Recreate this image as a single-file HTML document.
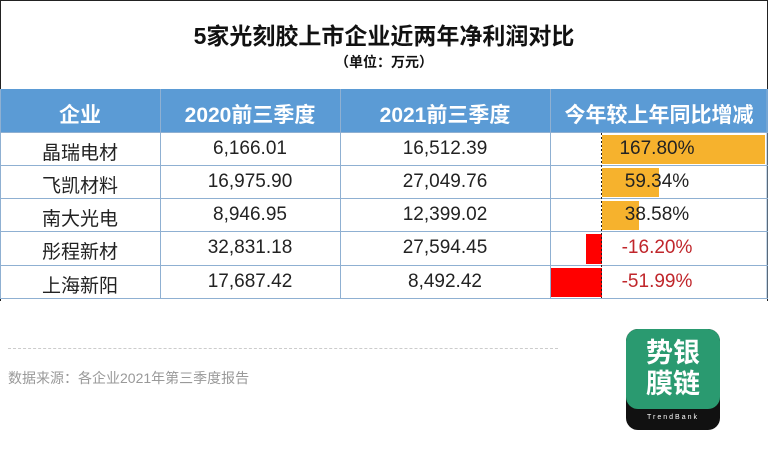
<!DOCTYPE html><html><head><meta charset="utf-8"><style>
body{margin:0;width:768px;height:462px;background:#fff;position:relative;overflow:hidden;font-family:"Liberation Sans","Noto Sans CJK SC",sans-serif}
.a{position:absolute}
.c{position:absolute;text-align:center;font-size:19px;color:#222}
</style></head><body>
<div class="a" style="left:0;top:0;width:766px;height:300px;border:1px solid #222;border-bottom:none"></div>
<div class="a" style="left:0;top:17px;width:768px;text-align:center;font-size:23px;font-weight:bold;color:#111">5家光刻胶上市企业近两年净利润对比</div>
<div class="a" style="left:0;top:52px;width:768px;text-align:center;font-size:14px;font-weight:bold;color:#111">（单位：万元）</div>
<div class="a" style="left:0;top:89px;width:768px;height:43px;background:#5b9bd5"></div>
<svg class="a" style="left:0;top:89px" width="768" height="212">
<g stroke="#8fb0d2" stroke-width="1">
<line x1="160.5" y1="0" x2="160.5" y2="210"/><line x1="340.5" y1="0" x2="340.5" y2="210"/><line x1="550.5" y1="0" x2="550.5" y2="210"/><line x1="0.5" y1="0" x2="0.5" y2="210"/><line x1="767" y1="0" x2="767" y2="210"/>
<line x1="0" y1="43.5" x2="768" y2="43.5"/><line x1="0" y1="76.5" x2="768" y2="76.5"/><line x1="0" y1="109.5" x2="768" y2="109.5"/><line x1="0" y1="142.5" x2="768" y2="142.5"/><line x1="0" y1="176.5" x2="768" y2="176.5"/><line x1="0" y1="209.5" x2="768" y2="209.5"/>
</g>
<rect x="602" y="46" width="163" height="29" fill="#f6b22d"/>
<rect x="602" y="79" width="57" height="29" fill="#f6b22d"/>
<rect x="602" y="112" width="37" height="29" fill="#f6b22d"/>
<rect x="586" y="145" width="16" height="30" fill="#f00"/>
<rect x="551" y="179" width="51" height="29" fill="#f00"/>
<line x1="601.5" y1="44" x2="601.5" y2="209" stroke="#222" stroke-dasharray="2,2"/>
</svg>
<div class="c" style="left:0;width:160px;top:99px;color:#fff;font-weight:bold;font-size:21px">企业</div>
<div class="c" style="left:160px;width:180px;top:99px;color:#fff;font-weight:bold;font-size:21px">2020前三季度</div>
<div class="c" style="left:340px;width:210px;top:99px;color:#fff;font-weight:bold;font-size:21px">2021前三季度</div>
<div class="c" style="left:550px;width:218px;top:99px;color:#fff;font-weight:bold;font-size:21px">今年较上年同比增减</div>
<div class="c" style="left:0;width:160px;top:138px">晶瑞电材</div><div class="c" style="left:160px;width:180px;top:138px">6,166.01</div><div class="c" style="left:340px;width:210px;top:138px">16,512.39</div><div class="c" style="left:602px;width:110px;top:138px">167.80%</div>
<div class="c" style="left:0;width:160px;top:171px">飞凯材料</div><div class="c" style="left:160px;width:180px;top:171px">16,975.90</div><div class="c" style="left:340px;width:210px;top:171px">27,049.76</div><div class="c" style="left:602px;width:110px;top:171px">59.34%</div>
<div class="c" style="left:0;width:160px;top:204px">南大光电</div><div class="c" style="left:160px;width:180px;top:204px">8,946.95</div><div class="c" style="left:340px;width:210px;top:204px">12,399.02</div><div class="c" style="left:602px;width:110px;top:204px">38.58%</div>
<div class="c" style="left:0;width:160px;top:237px">彤程新材</div><div class="c" style="left:160px;width:180px;top:237px">32,831.18</div><div class="c" style="left:340px;width:210px;top:237px">27,594.45</div><div class="c" style="left:602px;width:110px;top:237px;color:#c0262b">-16.20%</div>
<div class="c" style="left:0;width:160px;top:271px">上海新阳</div><div class="c" style="left:160px;width:180px;top:271px">17,687.42</div><div class="c" style="left:340px;width:210px;top:271px">8,492.42</div><div class="c" style="left:602px;width:110px;top:271px;color:#c0262b">-51.99%</div>
<div class="a" style="left:8px;top:348px;width:550px;border-top:1px dashed #ccc"></div>
<div class="a" style="left:8px;top:368px;font-size:14px;color:#999">数据来源：各企业2021年第三季度报告</div>
<div class="a" style="left:626px;top:329px;width:94px;height:101px;border-radius:12px;background:#111;overflow:hidden">
<div style="height:80px;background:#2a9a70;border-radius:12px;color:#fff;font-size:27px;font-weight:bold;line-height:31px;text-align:center;padding-top:9px;box-sizing:border-box">势银<br>膜链</div>
<div style="color:#fff;font-size:7px;letter-spacing:2px;text-align:center;margin-top:5px">TrendBank</div></div>
</body></html>
